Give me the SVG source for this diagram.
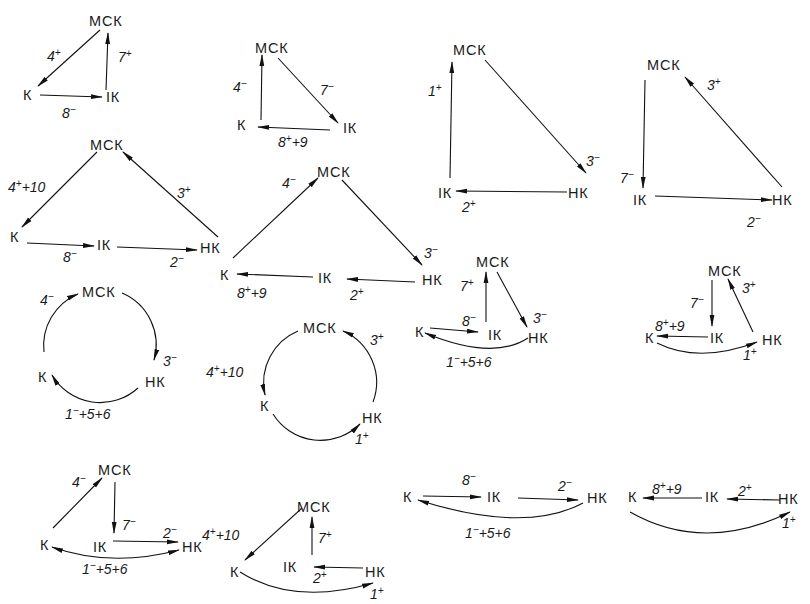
<svg xmlns="http://www.w3.org/2000/svg" width="810" height="604" viewBox="0 0 810 604">
<style>
.n{font-family:"Liberation Sans","DejaVu Sans",sans-serif;font-size:14.5px;fill:#1a1a1a;letter-spacing:0.8px}
.l{font-family:"Liberation Sans","DejaVu Sans",sans-serif;font-size:14px;font-style:italic;fill:#1a1a1a}
.s{font-size:10px}
.c{fill:none;stroke:#111;stroke-width:1.1}
.a{marker-end:url(#ah)}
.b{marker-start:url(#as)}
</style>
<defs>
<marker id="ah" markerUnits="userSpaceOnUse" markerWidth="12" markerHeight="6" refX="11" refY="3" orient="auto"><path d="M0,0.6 L12,3 L0,5.4 z" fill="#111"/></marker>
<marker id="as" markerUnits="userSpaceOnUse" markerWidth="12" markerHeight="6" refX="1" refY="3" orient="auto"><path d="M12,0.6 L0,3 L12,5.4 z" fill="#111"/></marker>
</defs>
<rect width="810" height="604" fill="#fff"/>

<!-- Diagram 1 -->
<g id="d1">
<g id="d1-mck"><text class="n" x="89" y="26">МСК</text></g>
<g id="d1-k"><text class="n" x="23" y="100">К</text></g>
<g id="d1-ik"><text class="n" x="106" y="102">ІК</text></g>
<g id="d1-conn">
<line class="c a" x1="100" y1="30" x2="38" y2="86"/>
<line class="c a" x1="106" y1="90" x2="108" y2="33"/>
<line class="c a" x1="40" y1="95" x2="102" y2="97"/>
</g>
<text class="l" x="47" y="61">4<tspan class="s" dy="-5">+</tspan></text>
<text class="l" x="118" y="62">7<tspan class="s" dy="-5">+</tspan></text>
<text class="l" x="62" y="118">8<tspan class="s" dy="-5">−</tspan></text>
</g>

<!-- Diagram 2 -->
<g id="d2">
<g id="d2-mck"><text class="n" x="255" y="53">МСК</text></g>
<g id="d2-k"><text class="n" x="237" y="130">К</text></g>
<g id="d2-ik"><text class="n" x="343" y="133">ІК</text></g>
<g id="d2-conn">
<line class="c a" x1="261" y1="120" x2="262" y2="55"/>
<line class="c a" x1="278" y1="58" x2="338" y2="123"/>
<line class="c a" x1="330" y1="130" x2="258" y2="127"/>
</g>
<text class="l" x="233" y="92">4<tspan class="s" dy="-5">−</tspan></text>
<text class="l" x="320" y="95">7<tspan class="s" dy="-5">−</tspan></text>
<text class="l" x="278" y="147">8<tspan class="s" dy="-5">+</tspan><tspan dy="5">+9</tspan></text>
</g>

<!-- Diagram 3 -->
<g id="d3">
<g id="d3-mck"><text class="n" x="453" y="55">МСК</text></g>
<g id="d3-ik"><text class="n" x="438" y="198">ІК</text></g>
<g id="d3-hk"><text class="n" x="568" y="198">НК</text></g>
<g id="d3-conn">
<line class="c a" x1="450" y1="178" x2="452" y2="62"/>
<line class="c a" x1="485" y1="60" x2="586" y2="173"/>
<line class="c a" x1="567" y1="192" x2="456" y2="191"/>
</g>
<text class="l" x="428" y="96">1<tspan class="s" dy="-5">+</tspan></text>
<text class="l" x="586" y="166">3<tspan class="s" dy="-5">−</tspan></text>
<text class="l" x="462" y="212">2<tspan class="s" dy="-5">+</tspan></text>
</g>

<!-- Diagram 4 -->
<g id="d4">
<g id="d4-mck"><text class="n" x="647" y="70">МСК</text></g>
<g id="d4-ik"><text class="n" x="633" y="205">ІК</text></g>
<g id="d4-hk"><text class="n" x="772" y="205">НК</text></g>
<g id="d4-conn">
<line class="c a" x1="645" y1="80" x2="643" y2="188"/>
<line class="c a" x1="782" y1="187" x2="685" y2="77"/>
<line class="c a" x1="655" y1="196" x2="772" y2="200"/>
</g>
<text class="l" x="707" y="90">3<tspan class="s" dy="-5">+</tspan></text>
<text class="l" x="620" y="183">7<tspan class="s" dy="-5">−</tspan></text>
<text class="l" x="747" y="227">2<tspan class="s" dy="-5">−</tspan></text>
</g>

<!-- Diagram 5 -->
<g id="d5">
<g id="d5-mck"><text class="n" x="90" y="150">МСК</text></g>
<g id="d5-k"><text class="n" x="10" y="242">К</text></g>
<g id="d5-ik"><text class="n" x="97" y="250">ІК</text></g>
<g id="d5-hk"><text class="n" x="200" y="253">НК</text></g>
<g id="d5-conn">
<line class="c a" x1="97" y1="152" x2="22" y2="227"/>
<line class="c a" x1="218" y1="237" x2="123" y2="152"/>
<line class="c a" x1="27" y1="243" x2="94" y2="246"/>
<line class="c a" x1="117" y1="247" x2="197" y2="250"/>
</g>
<text class="l" x="8" y="192">4<tspan class="s" dy="-5">+</tspan><tspan dy="5">+10</tspan></text>
<text class="l" x="177" y="198">3<tspan class="s" dy="-5">+</tspan></text>
<text class="l" x="63" y="262">8<tspan class="s" dy="-5">−</tspan></text>
<text class="l" x="170" y="267">2<tspan class="s" dy="-5">−</tspan></text>
</g>

<!-- Diagram 6 -->
<g id="d6">
<g id="d6-mck"><text class="n" x="317" y="177">МСК</text></g>
<g id="d6-k"><text class="n" x="220" y="280">К</text></g>
<g id="d6-ik"><text class="n" x="318" y="283">ІК</text></g>
<g id="d6-hk"><text class="n" x="422" y="285">НК</text></g>
<g id="d6-conn">
<line class="c a" x1="233" y1="258" x2="318" y2="178"/>
<line class="c a" x1="342" y1="180" x2="422" y2="265"/>
<line class="c a" x1="313" y1="277" x2="237" y2="274"/>
<line class="c a" x1="415" y1="282" x2="347" y2="279"/>
</g>
<text class="l" x="282" y="188">4<tspan class="s" dy="-5">−</tspan></text>
<text class="l" x="424" y="258">3<tspan class="s" dy="-5">−</tspan></text>
<text class="l" x="237" y="298">8<tspan class="s" dy="-5">+</tspan><tspan dy="5">+9</tspan></text>
<text class="l" x="350" y="300">2<tspan class="s" dy="-5">+</tspan></text>
</g>

<!-- Diagram 7 -->
<g id="d7">
<g id="d7-mck"><text class="n" x="476" y="267">МСК</text></g>
<g id="d7-k"><text class="n" x="415" y="337">К</text></g>
<g id="d7-ik"><text class="n" x="488" y="340">ІК</text></g>
<g id="d7-hk"><text class="n" x="528" y="343">НК</text></g>
<g id="d7-conn">
<line class="c a" x1="486" y1="322" x2="486" y2="272"/>
<line class="c a" x1="497" y1="272" x2="527" y2="327"/>
<line class="c a" x1="430" y1="328" x2="478" y2="332"/>
<path class="c a" d="M528,338 Q493,361 425,333"/>
</g>
<text class="l" x="460" y="291">7<tspan class="s" dy="-5">+</tspan></text>
<text class="l" x="533" y="323">3<tspan class="s" dy="-5">−</tspan></text>
<text class="l" x="462" y="326">8<tspan class="s" dy="-5">−</tspan></text>
<text class="l" x="446" y="367">1<tspan class="s" dy="-5">−</tspan><tspan dy="5">+5+6</tspan></text>
</g>

<!-- Diagram 8 -->
<g id="d8">
<g id="d8-mck"><text class="n" x="708" y="276">МСК</text></g>
<g id="d8-k"><text class="n" x="645" y="343">К</text></g>
<g id="d8-ik"><text class="n" x="710" y="343">ІК</text></g>
<g id="d8-hk"><text class="n" x="762" y="345">НК</text></g>
<g id="d8-conn">
<line class="c a" x1="712" y1="280" x2="712" y2="326"/>
<line class="c a" x1="753" y1="332" x2="728" y2="279"/>
<line class="c a" x1="708" y1="337" x2="657" y2="336"/>
<path class="c a" d="M657,343 Q699,364 757,342"/>
</g>
<text class="l" x="690" y="308">7<tspan class="s" dy="-5">−</tspan></text>
<text class="l" x="742" y="293">3<tspan class="s" dy="-5">+</tspan></text>
<text class="l" x="655" y="331">8<tspan class="s" dy="-5">+</tspan><tspan dy="5">+9</tspan></text>
<text class="l" x="743" y="360">1<tspan class="s" dy="-5">+</tspan></text>
</g>

<!-- Diagram 9 -->
<g id="d9">
<g id="d9-mck"><text class="n" x="82" y="297">МСК</text></g>
<g id="d9-k"><text class="n" x="38" y="382">К</text></g>
<g id="d9-hk"><text class="n" x="145" y="387">НК</text></g>
<g id="d9-conn">
<path class="c a" d="M44,352 A56,56 0 0 1 78,294"/>
<path class="c a" d="M122,293 A56,56 0 0 1 154,360"/>
<path class="c a" d="M138,388 A56,56 0 0 1 52,375"/>
</g>
<text class="l" x="40" y="305">4<tspan class="s" dy="-5">−</tspan></text>
<text class="l" x="163" y="366">3<tspan class="s" dy="-5">−</tspan></text>
<text class="l" x="65" y="419">1<tspan class="s" dy="-5">−</tspan><tspan dy="5">+5+6</tspan></text>
</g>

<!-- Diagram 10 -->
<g id="d10">
<g id="d10-mck"><text class="n" x="303" y="333">МСК</text></g>
<g id="d10-k"><text class="n" x="260" y="411">К</text></g>
<g id="d10-hk"><text class="n" x="362" y="423">НК</text></g>
<g id="d10-conn">
<path class="c a" d="M298,331 A56,56 0 0 0 265,395"/>
<path class="c a" d="M373,402 A56,56 0 0 0 343,331"/>
<path class="c a" d="M273,414 A56,56 0 0 0 360,424"/>
</g>
<text class="l" x="206" y="377">4<tspan class="s" dy="-5">+</tspan><tspan dy="5">+10</tspan></text>
<text class="l" x="370" y="345">3<tspan class="s" dy="-5">+</tspan></text>
<text class="l" x="355" y="444">1<tspan class="s" dy="-5">+</tspan></text>
</g>

<!-- Diagram 11 -->
<g id="d11">
<g id="d11-mck"><text class="n" x="98" y="475">МСК</text></g>
<g id="d11-k"><text class="n" x="40" y="550">К</text></g>
<g id="d11-ik"><text class="n" x="93" y="552">ІК</text></g>
<g id="d11-hk"><text class="n" x="182" y="552">НК</text></g>
<g id="d11-conn">
<line class="c a" x1="53" y1="528" x2="102" y2="478"/>
<line class="c a" x1="115" y1="482" x2="114" y2="533"/>
<line class="c a" x1="113" y1="541" x2="178" y2="542"/>
<path class="c a b" d="M52,547 Q111,568 179,550"/>
</g>
<text class="l" x="72" y="487">4<tspan class="s" dy="-5">−</tspan></text>
<text class="l" x="122" y="530">7<tspan class="s" dy="-5">−</tspan></text>
<text class="l" x="163" y="538">2<tspan class="s" dy="-5">−</tspan></text>
<text class="l" x="82" y="574">1<tspan class="s" dy="-5">−</tspan><tspan dy="5">+5+6</tspan></text>
</g>

<!-- Diagram 12 -->
<g id="d12">
<g id="d12-mck"><text class="n" x="297" y="512">МСК</text></g>
<g id="d12-k"><text class="n" x="230" y="577">К</text></g>
<g id="d12-ik"><text class="n" x="283" y="572">ІК</text></g>
<g id="d12-hk"><text class="n" x="365" y="577">НК</text></g>
<g id="d12-conn">
<line class="c a" x1="302" y1="508" x2="245" y2="560"/>
<line class="c a" x1="312" y1="555" x2="312" y2="517"/>
<line class="c a" x1="363" y1="568" x2="314" y2="567"/>
<path class="c a" d="M240,572 Q294,606 373,583"/>
</g>
<text class="l" x="202" y="540">4<tspan class="s" dy="-5">+</tspan><tspan dy="5">+10</tspan></text>
<text class="l" x="318" y="543">7<tspan class="s" dy="-5">+</tspan></text>
<text class="l" x="313" y="583">2<tspan class="s" dy="-5">+</tspan></text>
<text class="l" x="370" y="599">1<tspan class="s" dy="-5">+</tspan></text>
</g>

<!-- Diagram 13 -->
<g id="d13">
<g id="d13-k"><text class="n" x="403" y="502">К</text></g>
<g id="d13-ik"><text class="n" x="487" y="502">ІК</text></g>
<g id="d13-hk"><text class="n" x="587" y="503">НК</text></g>
<g id="d13-conn">
<line class="c a" x1="423" y1="496" x2="481" y2="497"/>
<line class="c a" x1="518" y1="498" x2="578" y2="500"/>
<path class="c a" d="M583,503 Q525,534 418,500"/>
</g>
<text class="l" x="462" y="485">8<tspan class="s" dy="-5">−</tspan></text>
<text class="l" x="558" y="491">2<tspan class="s" dy="-5">−</tspan></text>
<text class="l" x="465" y="538">1<tspan class="s" dy="-5">−</tspan><tspan dy="5">+5+6</tspan></text>
</g>

<!-- Diagram 14 -->
<g id="d14">
<g id="d14-k"><text class="n" x="628" y="502">К</text></g>
<g id="d14-ik"><text class="n" x="705" y="502">ІК</text></g>
<g id="d14-hk"><text class="n" x="778" y="504">НК</text></g>
<g id="d14-conn">
<line class="c a" x1="702" y1="498" x2="643" y2="498"/>
<line class="c a" x1="780" y1="500" x2="727" y2="499"/>
<path class="c a" d="M630,512 Q704,554 790,512"/>
</g>
<text class="l" x="652" y="494">8<tspan class="s" dy="-5">+</tspan><tspan dy="5">+9</tspan></text>
<text class="l" x="738" y="496">2<tspan class="s" dy="-5">+</tspan></text>
<text class="l" x="782" y="528">1<tspan class="s" dy="-5">+</tspan></text>
</g>
</svg>
